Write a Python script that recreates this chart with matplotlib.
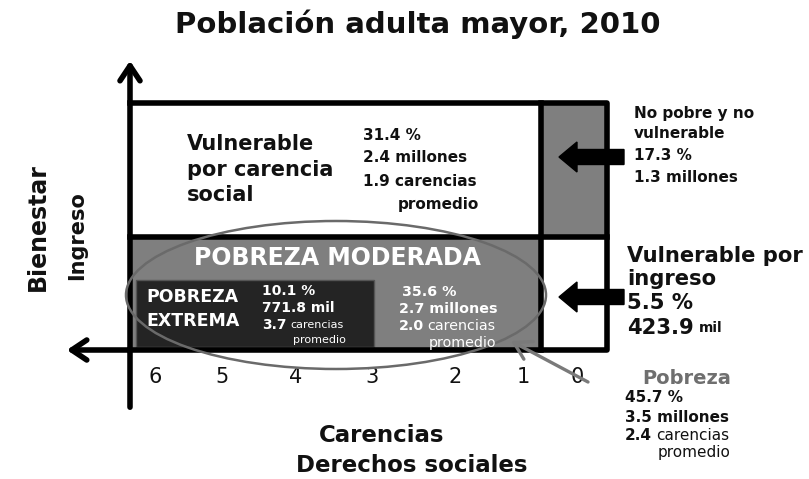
import matplotlib.pyplot as plt
from matplotlib.patches import Rectangle, Ellipse, FancyArrowPatch

# data
title = 'Población adulta mayor, 2010'
carencias_ticks = ['6', '5', '4', '3', '2', '1', '0']
vuln_social = ['31.4 %', '2.4 millones', '1.9', 'promedio']
extrema = ['10.1 %', '771.8 mil', '3.7', 'promedio']
moderada = ['35.6 %', '2.7 millones', '2.0', 'promedio']
no_pobre = ['No pobre y no', 'vulnerable', '17.3 %', '1.3 millones']
vuln_ingreso = ['Vulnerable por', 'ingreso', '5.5 %', '423.9']
pobreza = ['45.7 %', '3.5 millones', '2.4', 'promedio']

GRAY = '#7f7f7f'
DARK = '#242424'
INK = '#111111'

fig = plt.figure(figsize=(8.09, 4.79), dpi=100)
ax = fig.add_axes([0, 0, 1, 1])
ax.set_xlim(0, 809)
ax.set_ylim(479, 0)
ax.axis('off')
renderer = fig.canvas.get_renderer()


def run(x, y, parts, color=INK):
    # write pieces of text one after another on the same line
    for s, size, weight in parts:
        t = ax.text(x, y, s, fontsize=size, fontweight=weight, color=color,
                    ha='left', va='center')
        bb = t.get_window_extent(renderer)
        x = ax.transData.inverted().transform((bb.x1, 0))[0] + size * 0.35


B = dict(fontweight='bold', color=INK, va='center', ha='left')

ax.text(418, 24, title, fontsize=21, fontweight='bold', ha='center', va='center', color=INK)

# cells
ax.add_patch(Rectangle((130, 237), 411, 113, facecolor=GRAY, edgecolor='none'))
ax.add_patch(Rectangle((541, 103), 66, 134, facecolor=GRAY, edgecolor='none'))
ax.add_patch(Rectangle((136, 280), 238, 67, facecolor=DARK, edgecolor='#555555', lw=1))

# grid lines
lw = 4
ax.plot([130, 607, 607, 130], [103, 103, 350, 350], color='black', lw=lw, solid_capstyle='projecting')
ax.plot([130, 607], [237, 237], color='black', lw=lw)
ax.plot([541, 541], [103, 350], color='black', lw=lw)

# axes arrows
ax.add_patch(FancyArrowPatch((130, 410), (130, 58), arrowstyle='->,head_length=0.9,head_width=0.6',
                             lw=4, color='black', mutation_scale=12))
ax.add_patch(FancyArrowPatch((130, 350), (64, 350), arrowstyle='->,head_length=0.9,head_width=0.6',
                             lw=4, color='black', mutation_scale=12))

tick_x = [155, 222, 296, 372, 455, 523, 577]
for x, t in zip(tick_x, carencias_ticks):
    ax.text(x, 377, t, fontsize=15, ha='center', va='center', color=INK)

# ellipse
ax.add_patch(Ellipse((336, 295), 420, 148, facecolor='none', edgecolor='#6a6a6a', lw=1.8, zorder=3))

# vulnerable por carencia social
for i, s in enumerate(['Vulnerable', 'por carencia', 'social']):
    ax.text(187, 144 + i * 25.5, s, fontsize=15, **B)
ax.text(363, 136, vuln_social[0], fontsize=11, **B)
ax.text(363, 158, vuln_social[1], fontsize=11, **B)
ax.text(363, 181, vuln_social[2] + ' carencias', fontsize=11, **B)
ax.text(479, 204, vuln_social[3], fontsize=11, **dict(B, ha='right'))

# pobreza moderada / extrema
W = dict(B, color='white')
ax.text(337, 258, 'POBREZA MODERADA', fontsize=17, **dict(W, ha='center'))
ax.text(146, 297, 'POBREZA', fontsize=12.5, **W)
ax.text(146, 321, 'EXTREMA', fontsize=12.5, **W)
ax.text(262, 291, extrema[0], fontsize=10, **W)
ax.text(262, 308, extrema[1], fontsize=10, **W)
run(262, 325, [(extrema[2], 10, 'bold'), ('carencias', 8, 'normal')], color='white')
ax.text(346, 340, extrema[3], fontsize=8, color='white', va='center', ha='right')

ax.text(402, 292, moderada[0], fontsize=10.3, **W)
ax.text(399, 309, moderada[1], fontsize=10.3, **W)
run(399, 326, [(moderada[2], 10.3, 'bold'), ('carencias', 10.3, 'normal')], color='white')
ax.text(496, 343, moderada[3], fontsize=10.3, color='white', va='center', ha='right')

# block arrows
for y in [157, 297]:
    ax.arrow(624, y, -65, 0, width=15, head_width=30, head_length=18,
             length_includes_head=True, color='black')

# right side labels
for y, s in zip([113, 133, 155, 177], no_pobre):
    ax.text(634, y, s, fontsize=11, **B)
for y, s in zip([256, 279, 303], vuln_ingreso[:3]):
    ax.text(627, y, s, fontsize=15.2, **B)
run(627, 328, [(vuln_ingreso[3], 15.2, 'bold'), ('mil', 10, 'bold')])

# pobreza total
ax.add_patch(FancyArrowPatch((588, 382), (511, 341), arrowstyle='->,head_length=1.0,head_width=0.6',
                             lw=2.4, color='#7a7a7a', mutation_scale=12, shrinkA=0, shrinkB=0, zorder=5))
ax.text(731, 378, 'Pobreza', fontsize=14, **dict(B, color='#6f6f6f', ha='right'))
ax.text(625, 398, pobreza[0], fontsize=11, **B)
ax.text(625, 417, pobreza[1], fontsize=11, **B)
run(625, 435, [(pobreza[2], 11, 'bold'), ('carencias', 11, 'normal')])
ax.text(731, 453, pobreza[3], fontsize=11, color=INK, va='center', ha='right')

# axis titles
ax.text(38, 227, 'Bienestar', fontsize=17, rotation=90, **dict(B, ha='center'))
ax.text(77, 236, 'Ingreso', fontsize=15, rotation=90, **dict(B, ha='center'))
ax.text(382, 435, 'Carencias', fontsize=16.5, **dict(B, ha='center'))
ax.text(412, 465, 'Derechos sociales', fontsize=16.5, **dict(B, ha='center'))

fig.savefig('out.png', dpi=100)
